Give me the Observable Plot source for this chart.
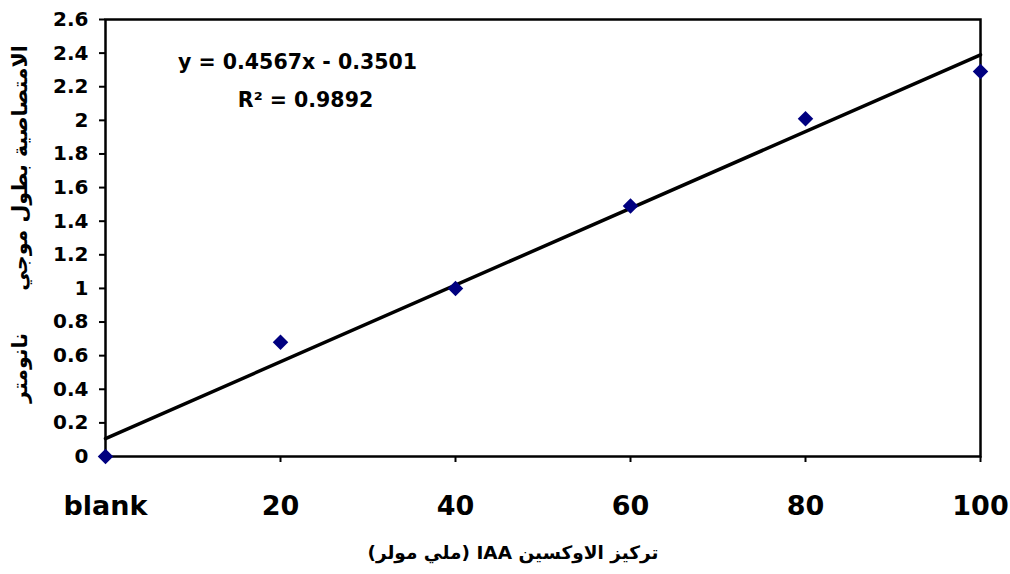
<!DOCTYPE html>
<html>
<head>
<meta charset="utf-8">
<script src="https://cdn.jsdelivr.net/npm/d3@7"></script>
<script src="https://cdn.jsdelivr.net/npm/@observablehq/plot@0.6"></script>
<style>
  html, body { margin: 0; padding: 0; background: #fff; }
  #chart { width: 1010px; height: 574px; }
</style>
</head>
<body>
<div id="chart"></div>
<script>
// Categories along the x axis (positions 0..5)
const categories = ["blank", "20", "40", "60", "80", "100"];
// Measured absorbance values
const absorbance = [0, 0.68, 1.0, 1.49, 2.01, 2.29];
// Y tick values
const yTicks = [0, 0.2, 0.4, 0.6, 0.8, 1, 1.2, 1.4, 1.6, 1.8, 2, 2.2, 2.4, 2.6];
// Linear trendline (Excel style, x = 1..6)
const slope = 0.4567;
const intercept = -0.3501;
const equationText = "y = 0.4567x - 0.3501";
const r2Text = "R\u00B2 = 0.9892";
const RLE = "\u202B", PDF = "\u202C";
const xTitle = "تركيز الاوكسين IAA (ملي مولر)";
const yTitleTop = "الامتصاصية بطول موجي";
const yTitleBottom = "نانومتر";

const points = categories.map((c, i) => ({i, c, v: absorbance[i]}));
const trend = [0, categories.length - 1].map(i => ({i, v: slope * (i + 1) + intercept}));

const font = "'DejaVu Sans', sans-serif";

const chart = Plot.plot({
  width: 1010,
  height: 574,
  marginLeft: 105,
  marginRight: 30,
  marginTop: 19,
  marginBottom: 118,
  style: {fontFamily: font, color: "#000", background: "#fff", overflow: "visible"},
  x: {domain: [0, categories.length - 1]},
  y: {domain: [0, 2.6]},
  marks: [
    Plot.axisY({ticks: yTicks, tickFormat: d => String(+d.toFixed(1)), tickSize: 6, tickPadding: 11,
      fontSize: 20, fontWeight: "bold", label: null, strokeWidth: 2}),
    Plot.axisX({ticks: d3.range(categories.length), tickFormat: i => categories[i], tickSize: 6, tickPadding: 33,
      fontSize: 27, fontWeight: "bold", label: null, strokeWidth: 2}),
    Plot.frame({stroke: "#000", strokeWidth: 2.5}),
    Plot.line(trend, {x: "i", y: "v", stroke: "#000", strokeWidth: 3.5}),
    Plot.dot(points, {x: "i", y: "v", symbol: "diamond2", r: 7, fill: "#000080", stroke: "none"}),
    Plot.text([equationText], {frameAnchor: "top-left", dx: 192, dy: 43, text: d => d, fontSize: 20.5, fontWeight: "bold", textAnchor: "middle", lineAnchor: "middle"}),
    Plot.text([r2Text], {frameAnchor: "top-left", dx: 200, dy: 81, text: d => d, fontSize: 20.5, fontWeight: "bold", textAnchor: "middle", lineAnchor: "middle"}),
    Plot.text([RLE + xTitle + PDF], {frameAnchor: "bottom", dx: -30, dy: 97, text: d => d, fontSize: 18.5, fontWeight: "bold", textAnchor: "middle", lineAnchor: "middle"}),
    Plot.text([RLE + yTitleTop + PDF], {frameAnchor: "left", dx: -85, dy: -70, rotate: -90, text: d => d, fontSize: 20.5, fontWeight: "bold", textAnchor: "middle", lineAnchor: "middle"}),
    Plot.text([RLE + yTitleBottom + PDF], {frameAnchor: "left", dx: -85, dy: 130, rotate: -90, text: d => d, fontSize: 20.5, fontWeight: "bold", textAnchor: "middle", lineAnchor: "middle"})
  ]
});
document.getElementById("chart").appendChild(chart);
</script>
</body>
</html>
